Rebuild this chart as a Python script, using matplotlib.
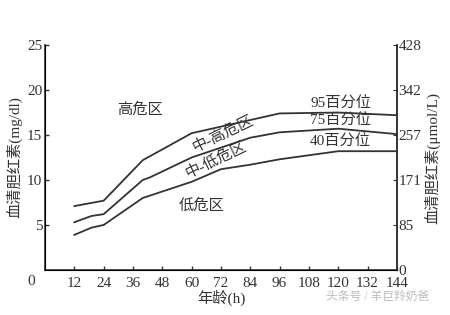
import matplotlib
matplotlib.use("Agg")
import matplotlib.pyplot as plt

plt.rcParams['font.family'] = ['Liberation Serif', 'Noto Sans CJK SC', 'DejaVu Sans']

# Data (hours, serum bilirubin mg/dl)
p95_h = [12, 24, 40, 60, 96, 120, 144]
p95 = [7.1, 7.7, 12.2, 15.2, 17.4, 17.5, 17.2]
p75_h = [12, 19, 24, 40, 43, 60, 84, 96, 120, 144]
p75 = [5.3, 6.0, 6.2, 10.0, 10.3, 12.5, 14.7, 15.3, 15.7, 15.1]
p40_h = [12, 19, 24, 40, 60, 72, 84, 96, 120, 144]
p40 = [3.9, 4.7, 5.0, 8.0, 9.8, 11.2, 11.7, 12.3, 13.2, 13.2]

x_ticks = [12, 24, 36, 48, 60, 72, 84, 96, 108, 120, 132, 144]
y_ticks = [5, 10, 15, 20, 25]
right_ticks = [0, 5, 10, 15, 20, 25]
right_labels = ['0', '85', '171', '257', '342', '428']

fig = plt.figure(figsize=(4.5, 3.15), dpi=100)
ax = fig.add_axes([0.1, 0.143, 0.782, 0.714])
col = '#333333'
for h, v in [(p95_h, p95), (p75_h, p75), (p40_h, p40)]:
    ax.plot(h, v, color=col, lw=1.3)

ax.set_xlim(0, 144)
ax.set_ylim(0, 25)
ax.set_xticks(x_ticks)
ax.set_yticks(y_ticks)
ax.tick_params(direction='in', length=3, labelsize=11, colors=col, width=1)
ax.tick_params(axis='x', pad=5)
ax.tick_params(axis='y', pad=2)
ax.spines['top'].set_visible(False)
for s in ['left', 'bottom', 'right']:
    ax.spines[s].set_color(col)
    ax.spines[s].set_linewidth(1.2)
ax.set_xlabel('年龄(h)', fontsize=11, color=col, labelpad=0)
ax.set_ylabel('血清胆红素(mg/dl)', fontsize=11, color=col, labelpad=3)
ax.text(-4, -1.3, '0', fontsize=11, color=col, ha='right', va='center')

ax2 = ax.twinx()
ax2.set_ylim(0, 25)
ax2.set_yticks(right_ticks)
ax2.set_yticklabels(right_labels)
ax2.tick_params(direction='in', length=3, labelsize=11, colors=col, pad=1)
ax2.spines['top'].set_visible(False)
ax2.spines['right'].set_color(col)
ax2.spines['right'].set_linewidth(1.2)
ax2.set_ylabel('血清胆红素(μmol/L)', fontsize=11, color=col, rotation=90, labelpad=2)

tk = dict(fontsize=11, color=col, ha='center', va='center')
ax.text(39, 17.8, '高危区', **tk)
ax.text(73, 15.1, '中-高危区', rotation=26, **tk)
ax.text(70, 12.3, '中-低危区', rotation=26, **tk)
ax.text(64, 7.2, '低危区', **tk)
ax.text(121, 18.5, '95百分位', **tk)
ax.text(121, 16.6, '75百分位', **tk)
ax.text(121, 14.3, '40百分位', **tk)

fig.text(0.84, 0.057, '头条号 / 羊巨羚奶爸', fontsize=8.5, color='#bbbbbb', ha='center', va='center')

fig.savefig('out.png', dpi=100)
